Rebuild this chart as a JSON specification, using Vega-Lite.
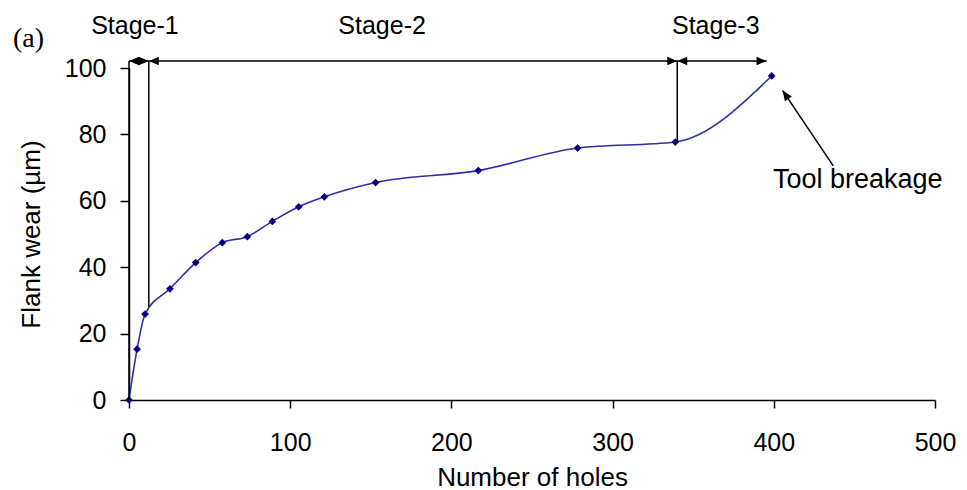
{
  "$schema": "https://vega.github.io/schema/vega-lite/v6.json",
  "width": 806,
  "height": 332,
  "autosize": {"type": "none"},
  "padding": {"left": 129, "top": 68, "right": 32, "bottom": 90},
  "background": "white",
  "config": {
    "view": {"stroke": null},
    "font": "Liberation Sans",
    "axis": {
      "grid": false,
      "labelFlush": false,
      "labelOverlap": false,
      "domainColor": "#000000",
      "domainWidth": 1.5,
      "tickColor": "#000000",
      "tickWidth": 1.5,
      "labelColor": "#000000",
      "titleColor": "#000000",
      "labelFont": "Liberation Sans",
      "titleFont": "Liberation Sans",
      "labelFontSize": 25,
      "titleFontSize": 26,
      "titleFontWeight": "normal"
    }
  },
  "datasets": {
    "wear": [
      {"holes": 0, "wear": 0},
      {"holes": 5, "wear": 15.3},
      {"holes": 10, "wear": 25.9},
      {"holes": 25.4, "wear": 33.5},
      {"holes": 41.4, "wear": 41.4},
      {"holes": 57.9, "wear": 47.4},
      {"holes": 73.4, "wear": 49.2},
      {"holes": 88.9, "wear": 53.8},
      {"holes": 105.3, "wear": 58.2},
      {"holes": 121.2, "wear": 61.2},
      {"holes": 153, "wear": 65.5},
      {"holes": 216.7, "wear": 69.1},
      {"holes": 278.3, "wear": 75.9},
      {"holes": 338.9, "wear": 77.7},
      {"holes": 398.7, "wear": 97.6}
    ],
    "segments": [
      {"x1": 0, "y1": 102.1, "x2": 395.5, "y2": 102.1},
      {"x1": 0, "y1": 0, "x2": 0, "y2": 102.1},
      {"x1": 12.3, "y1": 28, "x2": 12.3, "y2": 102.1},
      {"x1": 340.1, "y1": 77.7, "x2": 340.1, "y2": 102.1},
      {"x1": 436.9, "y1": 70.5, "x2": 405.5, "y2": 93.2}
    ],
    "heads": [
      {"x": 0, "y": 102.1, "dir": "left"},
      {"x": 12.3, "y": 102.1, "dir": "right"},
      {"x": 12.3, "y": 102.1, "dir": "left"},
      {"x": 340.1, "y": 102.1, "dir": "right"},
      {"x": 340.1, "y": 102.1, "dir": "left"},
      {"x": 395.5, "y": 102.1, "dir": "right"}
    ],
    "breakHead": [
      {"x": 405.5, "y": 93.2}
    ],
    "stages": [
      {"x": 3.7, "y": 110.2, "label": "Stage-1"},
      {"x": 157, "y": 110.2, "label": "Stage-2"},
      {"x": 364, "y": 110.2, "label": "Stage-3"}
    ],
    "notes": [
      {"x": 399.5, "y": 63.9, "label": "Tool breakage"}
    ],
    "panel": [
      {"x": -72, "y": 106.3, "label": "(a)"}
    ]
  },
  "layer": [
    {
      "data": {"name": "wear"},
      "mark": {"type": "line", "interpolate": "monotone", "color": "#2e2eaa", "strokeWidth": 1.6},
      "encoding": {
        "x": {
          "field": "holes", "type": "quantitative",
          "scale": {"domain": [0, 500], "nice": false, "zero": false},
          "axis": {"values": [0, 100, 200, 300, 400, 500], "title": "Number of holes", "tickSize": 8, "labelPadding": 22, "titlePadding": 9}
        },
        "y": {
          "field": "wear", "type": "quantitative",
          "scale": {"domain": [0, 100], "nice": false, "zero": false},
          "axis": {"values": [0, 20, 40, 60, 80, 100], "title": "Flank wear (µm)", "tickSize": 9, "labelPadding": 14, "titlePadding": 20}
        }
      }
    },
    {
      "data": {"name": "wear"},
      "mark": {"type": "point", "shape": "diamond", "filled": true, "color": "#000080", "size": 60, "opacity": 1},
      "encoding": {
        "x": {"field": "holes", "type": "quantitative"},
        "y": {"field": "wear", "type": "quantitative"}
      }
    },
    {
      "data": {"name": "segments"},
      "mark": {"type": "rule", "color": "#000000", "strokeWidth": 1.5, "clip": false},
      "encoding": {
        "x": {"field": "x1", "type": "quantitative"},
        "y": {"field": "y1", "type": "quantitative"},
        "x2": {"field": "x2"},
        "y2": {"field": "y2"}
      }
    },
    {
      "data": {"name": "heads"},
      "mark": {"type": "point", "filled": true, "color": "#000000", "size": 100, "opacity": 1, "clip": false},
      "encoding": {
        "x": {"field": "x", "type": "quantitative"},
        "y": {"field": "y", "type": "quantitative"},
        "shape": {
          "field": "dir", "type": "nominal",
          "scale": {"domain": ["left", "right"], "range": ["M0,0L2,-0.85L2,0.85Z", "M0,0L-2,-0.85L-2,0.85Z"]},
          "legend": null
        }
      }
    },
    {
      "data": {"name": "breakHead"},
      "mark": {"type": "point", "filled": true, "color": "#000000", "size": 100, "opacity": 1, "shape": "M0,0L2,-0.85L2,0.85Z", "angle": 55.5, "clip": false},
      "encoding": {
        "x": {"field": "x", "type": "quantitative"},
        "y": {"field": "y", "type": "quantitative"}
      }
    },
    {
      "data": {"name": "stages"},
      "mark": {"type": "text", "font": "Liberation Sans", "fontSize": 25, "align": "center", "baseline": "alphabetic", "color": "#000000", "clip": false},
      "encoding": {
        "x": {"field": "x", "type": "quantitative"},
        "y": {"field": "y", "type": "quantitative"},
        "text": {"field": "label"}
      }
    },
    {
      "data": {"name": "notes"},
      "mark": {"type": "text", "font": "Liberation Sans", "fontSize": 27, "align": "left", "baseline": "alphabetic", "color": "#000000", "clip": false},
      "encoding": {
        "x": {"field": "x", "type": "quantitative"},
        "y": {"field": "y", "type": "quantitative"},
        "text": {"field": "label"}
      }
    },
    {
      "data": {"name": "panel"},
      "mark": {"type": "text", "font": "Liberation Serif", "fontSize": 28, "align": "left", "baseline": "alphabetic", "color": "#000000", "clip": false},
      "encoding": {
        "x": {"field": "x", "type": "quantitative"},
        "y": {"field": "y", "type": "quantitative"},
        "text": {"field": "label"}
      }
    }
  ]
}
